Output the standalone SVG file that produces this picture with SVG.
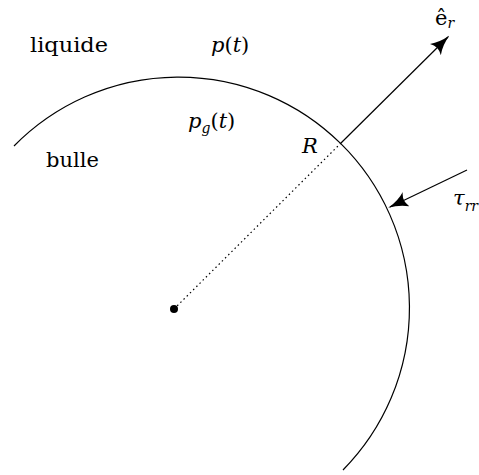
<svg xmlns="http://www.w3.org/2000/svg" width="479" height="475" viewBox="0 0 479 475">
<defs>
<style>
text{font-family:'DejaVu Serif','Liberation Serif',serif;font-size:21px;fill:#000}
.i{font-style:italic}
.s{font-size:14px}
.ln{stroke:#000;stroke-width:1.2;fill:none}
</style>
<marker id="ah" viewBox="0 0 20 16" refX="18" refY="8" markerWidth="20" markerHeight="16" markerUnits="userSpaceOnUse" orient="auto">
<path d="M0,0 Q8,6 20,8 Q8,10 0,16 Q5,8 0,0 Z" fill="#000"/>
</marker>
</defs>
<rect width="479" height="475" fill="#fff"/>
<g id="bubble">
<path class="ln" d="M14,146 A230,230 0 1 1 343,470"/>
</g>
<g id="center">
<circle cx="174" cy="309" r="4" fill="#000"/>
</g>
<g id="connectors">
<line class="ln" x1="174" y1="309" x2="341" y2="143" stroke-dasharray="1.5,3"/>
<line class="ln" x1="341" y1="143" x2="448" y2="37" marker-end="url(#ah)"/>
<line class="ln" x1="467" y1="170" x2="390" y2="207" marker-end="url(#ah)"/>
</g>
<g id="labels">
<text x="30" y="52" textLength="78" lengthAdjust="spacingAndGlyphs">liquide</text>
<text class="i" x="211" y="52">p<tspan font-style="normal">(</tspan>t<tspan font-style="normal">)</tspan></text>
<text class="i" x="188" y="128">p<tspan class="s" dy="5">g</tspan><tspan font-style="normal" dy="-5">(</tspan>t<tspan font-style="normal">)</tspan></text>
<text x="46" y="167">bulle</text>
<text class="i" x="302" y="153">R</text>
<text x="435" y="25" font-size="24">ê<tspan class="s i" dy="3">r</tspan></text>
<text class="i" x="453" y="205">τ<tspan class="s" dy="6">rr</tspan></text>
</g>
</svg>
